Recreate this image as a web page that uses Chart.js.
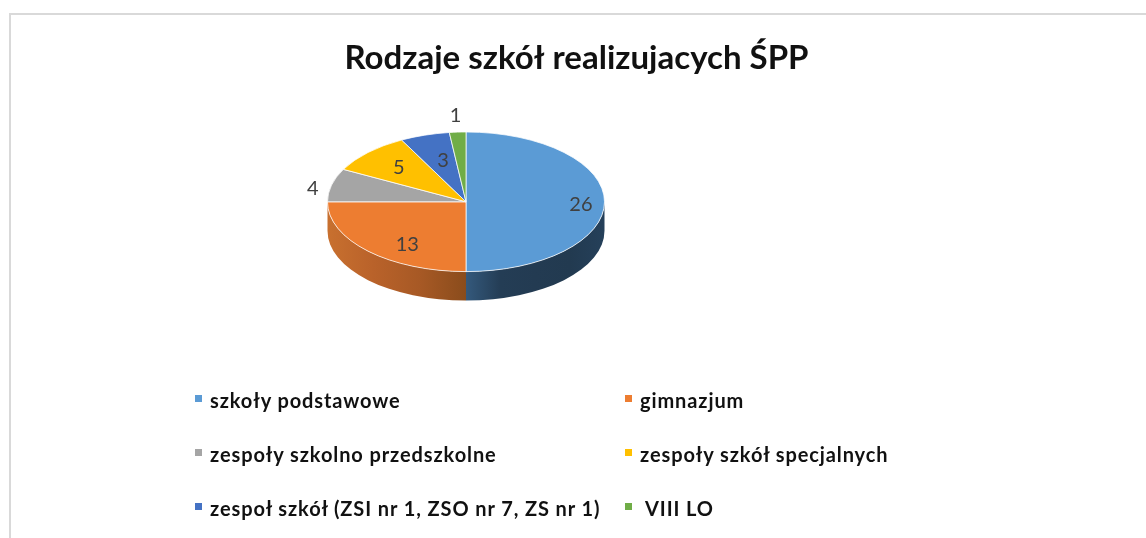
<!DOCTYPE html>
<html lang="pl">
<head>
<meta charset="utf-8">
<title>Rodzaje szkół realizujacych ŚPP</title>
<script src="https://cdn.jsdelivr.net/npm/chart.js@4"></script>
<style>
    html, body { margin: 0; padding: 0; background: #fff; overflow: hidden; }
    #wrap { position: relative; width: 1146px; height: 538px; }
    #frame {
        position: absolute; left: 9px; top: 13px; right: 0; bottom: 0;
        border-left: 2px solid #d9d9d9; border-top: 2px solid #d9d9d9;
    }
    canvas { position: absolute; left: 0; top: 0; }
    #legend {
        position: absolute; left: 195px; top: 373px; margin: 0; padding: 0;
        list-style: none; display: grid;
        grid-template-columns: 430px 300px; grid-auto-rows: 54px;
        font: bold 20px Lato, sans-serif; letter-spacing: 0.9px; color: #111;
    }
    #legend li { display: flex; align-items: center; white-space: pre; }
    #legend i { width: 7px; height: 7px; margin: -4px 8px 0 0; flex: none; }
</style>
</head>
<body>
<div id="wrap">
    <div id="frame"></div>
    <canvas id="chart" width="1146" height="538"></canvas>
    <ul id="legend"></ul>
</div>
<script>
const titleText = 'Rodzaje szkół realizujacych ŚPP';
const categories = [
    'szkoły podstawowe',
    'gimnazjum',
    'zespoły szkolno przedszkolne',
    'zespoły szkół specjalnych',
    'zespoł szkół (ZSI nr 1, ZSO nr 7, ZS nr 1)',
    ' VIII LO'
];
const schoolCounts = [26, 13, 4, 5, 3, 1];
const sliceColors = ['#5b9bd5', '#ed7d31', '#a5a5a5', '#ffc000', '#4472c4', '#70ad47'];

// Fakes the tilted 3D look: squashes the pie and adds a side wall under it
const tiltedPie = {
    id: 'tiltedPie',
    afterLayout(chart, args, opts) {
        // the title is placed on the page, not on the padded pie area
        const title = chart.titleBlock;
        title.left = opts.titleLeft;
        title.right = opts.titleRight;
        title.top += opts.titleDrop;
        title.bottom += opts.titleDrop;
    },
    beforeDatasetsDraw(chart, args, opts) {
        const ctx = chart.ctx;
        const arcs = chart.getDatasetMeta(0).data;
        const first = arcs[0];
        const rx = first.outerRadius;
        const ry = rx * opts.tilt;

        // side wall, only the part of a slice facing the viewer has one
        arcs.forEach((arc, i) => {
            const stops = opts.wallStops[i];
            if (!stops) return;
            const a = Math.max(arc.startAngle, 0);
            const b = Math.min(arc.endAngle, Math.PI);
            const x0 = arc.x + rx * Math.cos(b);
            const x1 = arc.x + rx * Math.cos(a);
            const grad = ctx.createLinearGradient(x0, 0, x1, 0);
            stops.forEach((c, n) => grad.addColorStop(n / (stops.length - 1), c));
            ctx.beginPath();
            ctx.ellipse(arc.x, arc.y, rx, ry, 0, a, b);
            ctx.ellipse(arc.x, arc.y + opts.depth, rx, ry, 0, b, a, true);
            ctx.closePath();
            ctx.fillStyle = grad;
            ctx.fill();
        });

        ctx.save();
        ctx.translate(first.x, first.y);
        ctx.scale(1, opts.tilt);
        ctx.translate(-first.x, -first.y);
    },
    afterDatasetsDraw(chart, args, opts) {
        const ctx = chart.ctx;
        ctx.restore();

        // value labels
        const arcs = chart.getDatasetMeta(0).data;
        ctx.save();
        ctx.font = opts.labelFont;
        ctx.fillStyle = opts.labelColor;
        ctx.textAlign = 'center';
        ctx.textBaseline = 'middle';
        arcs.forEach((arc, i) => {
            const mid = (arc.startAngle + arc.endAngle) / 2;
            const r = arc.outerRadius * opts.labelRadius[i];
            const x = arc.x + r * Math.cos(mid);
            const y = arc.y + r * opts.tilt * Math.sin(mid) + opts.labelShift[i];
            ctx.fillText(schoolCounts[i], x, y);
        });
        ctx.restore();
    }
};

const chart = new Chart(document.getElementById('chart'), {
    type: 'pie',
    data: {
        labels: categories,
        datasets: [{
            data: schoolCounts,
            backgroundColor: sliceColors,
            borderColor: '#fff',
            borderWidth: 1
        }]
    },
    plugins: [tiltedPie],
    options: {
        responsive: false,
        animation: false,
        layout: { padding: { left: 327, right: 541, top: 0, bottom: 197 } },
        plugins: {
            title: {
                display: true,
                text: titleText,
                color: '#111',
                font: { family: 'Lato, sans-serif', size: 33, weight: 'bold' },
                padding: { top: 23, bottom: 0 }
            },
            legend: { display: false },
            tooltip: { enabled: false },
            tiltedPie: {
                tilt: 0.504,
                depth: 29,
                titleLeft: 0,
                titleRight: 1153,
                titleDrop: 16,
                wallStops: [
                    ['#34597c', '#243d55', '#233b52', '#223a50', '#25405a'],
                    ['#c8702f', '#b9622a', '#a75925', '#8a4c1c']
                ],
                labelFont: '20px Lato, sans-serif',
                labelColor: '#404040',
                labelRadius: [0.83, 0.6, 1.14, 0.686, 0.557, 1.24],
                labelShift: [3, 13, 6, 0, -4, 0]
            }
        }
    }
});

// HTML legend, two columns like the original
const legendList = document.getElementById('legend');
chart.options.plugins.legend.labels.generateLabels(chart).forEach(item => {
    const li = document.createElement('li');
    const box = document.createElement('i');
    box.style.background = item.fillStyle;
    li.appendChild(box);
    li.appendChild(document.createTextNode(item.text));
    legendList.appendChild(li);
});
</script>
</body>
</html>
